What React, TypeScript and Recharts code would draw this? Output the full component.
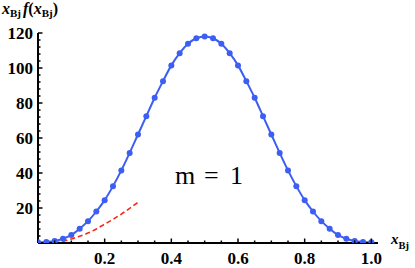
import React from 'react';
import { ComposedChart, Line, XAxis, YAxis } from 'recharts';

const xValues = [
  0, 0.025, 0.05, 0.075, 0.1, 0.125, 0.15, 0.175, 0.2, 0.225, 0.25, 0.275, 0.3, 0.325, 0.35, 0.375, 0.4,
  0.425, 0.45, 0.475, 0.5, 0.525, 0.55, 0.575, 0.6, 0.625, 0.65, 0.675, 0.7, 0.725, 0.75, 0.775, 0.8,
  0.825, 0.85, 0.875, 0.9, 0.925, 0.95, 0.975, 1.0,
];
const blueValues = [
  0.4, 0.6, 1.1, 2.4, 4.6, 8.2, 12.5, 18, 24.5, 32.5, 41.5, 51.5, 62, 72.5, 83, 92.5, 101.5,
  108.5, 113.8, 117, 118, 117, 113.8, 108.5, 101.5, 92.5, 83, 72.5, 62, 51.5, 41.5, 32.5, 24.5,
  18, 12.5, 8.2, 4.6, 2.4, 1.1, 0.6, 0.4,
];
const redX = [0.05, 0.075, 0.1, 0.125, 0.15, 0.175, 0.2, 0.225, 0.25, 0.275, 0.3];
const redValues = [0, 1, 2.3, 3.8, 5.7, 8, 10.8, 13.5, 16.5, 19.8, 23.2];

const xTicks = [0.05, 0.1, 0.15, 0.2, 0.25, 0.3, 0.35, 0.4, 0.45, 0.5, 0.55, 0.6, 0.65, 0.7, 0.75, 0.8, 0.85, 0.9, 0.95, 1.0];
const xMajor = [0.2, 0.4, 0.6, 0.8, 1.0];
const yTicks = [4, 8, 12, 16, 20, 24, 28, 32, 36, 40, 44, 48, 52, 56, 60, 64, 68, 72, 76, 80, 84, 88, 92, 96, 100, 104, 108, 112, 116, 120];
const yMajor = [20, 40, 60, 80, 100, 120];

const blueData = xValues.map((x, i) => ({ x, y: blueValues[i] }));
const redData = redX.map((x, i) => ({ x, y: redValues[i] }));

const FONT = 'Liberation Serif';
const BLUE = '#3d5ef2';
const RED = '#f42a1c';

const isMajor = (list: number[], v: number) => list.some((m) => Math.abs(m - v) < 1e-6);

const serifBold: React.CSSProperties = { fontFamily: FONT, fontWeight: 700 };

const XTick = (props: any) => {
  const { x, y, payload } = props;
  const v = payload.value;
  const major = isMajor(xMajor, v);
  return (
    <g>
      <line x1={x} x2={x} y1={y} y2={y - (major ? 4.5 : 2.5)} stroke="#000" strokeWidth={1.5} />
      {major && (
        <text x={x} y={y + 21} textAnchor="middle" style={{ ...serifBold, fontSize: 17 }} fill="#000">
          {v.toFixed(1)}
        </text>
      )}
    </g>
  );
};

const YTick = (props: any) => {
  const { x, y, payload } = props;
  const v = payload.value;
  const major = isMajor(yMajor, v);
  return (
    <g>
      <line x1={x} x2={x + (major ? 4.5 : 2.5)} y1={y} y2={y} stroke="#000" strokeWidth={1.5} />
      {major && (
        <text x={x - 5} y={y} dy={6} textAnchor="end" style={{ ...serifBold, fontSize: 17 }} fill="#000">
          {v}
        </text>
      )}
    </g>
  );
};

const YTitle = () => (
  <text x={2} y={14} style={{ ...serifBold, fontSize: 16 }} fill="#000">
    <tspan style={{ fontStyle: 'italic' }}>x</tspan>
    <tspan style={{ fontSize: 11 }} dy={3}>Bj</tspan>
    <tspan dy={-3} dx={2} style={{ fontStyle: 'italic' }}>f</tspan>
    <tspan>(</tspan>
    <tspan style={{ fontStyle: 'italic' }}>x</tspan>
    <tspan style={{ fontSize: 11 }} dy={3}>Bj</tspan>
    <tspan dy={-3}>)</tspan>
  </text>
);

const XTitle = () => (
  <g>
    <text x={391} y={244} style={{ ...serifBold, fontSize: 15 }} fill="#000">
      <tspan style={{ fontStyle: 'italic' }}>x</tspan>
      <tspan style={{ fontSize: 10.5 }} dy={5}>Bj</tspan>
    </text>
    <text x={175} y={184} style={{ fontFamily: FONT, fontWeight: 400, fontSize: 26 }} fill="#000">
      <tspan>m</tspan>
      <tspan x={204}>=</tspan>
      <tspan x={230}>1</tspan>
    </text>
  </g>
);

export default function App() {
  return (
    <div style={{ position: 'absolute', left: 0, top: 0, width: 415, height: 268, background: '#fff', fontFamily: FONT }}>
      <ComposedChart width={415} height={268} margin={{ top: 33, right: 37, left: 0, bottom: 0 }}>
        <XAxis
          type="number"
          dataKey="x"
          domain={[0, 1.02]}
          ticks={xTicks}
          interval={0}
          tick={<XTick />}
          tickSize={0}
          tickMargin={0}
          tickLine={false}
          axisLine={{ stroke: '#000', strokeWidth: 2 }}
          height={25}
          allowDataOverflow
          label={{ content: () => <XTitle /> }}
        />
        <YAxis
          type="number"
          dataKey="y"
          domain={[0, 120]}
          ticks={yTicks}
          interval={0}
          tick={<YTick />}
          tickSize={0}
          tickMargin={0}
          tickLine={false}
          axisLine={{ stroke: '#000', strokeWidth: 2 }}
          width={38}
          allowDataOverflow
          label={{ content: () => <YTitle /> }}
        />
        <Line
          data={redData}
          dataKey="y"
          type="monotone"
          stroke={RED}
          strokeWidth={1.6}
          strokeDasharray="5 3"
          dot={false}
          isAnimationActive={false}
        />
        <Line
          data={blueData}
          dataKey="y"
          type="monotone"
          stroke={BLUE}
          strokeWidth={2}
          dot={{ r: 3, fill: BLUE, stroke: 'none' }}
          isAnimationActive={false}
        />
      </ComposedChart>
    </div>
  );
}
